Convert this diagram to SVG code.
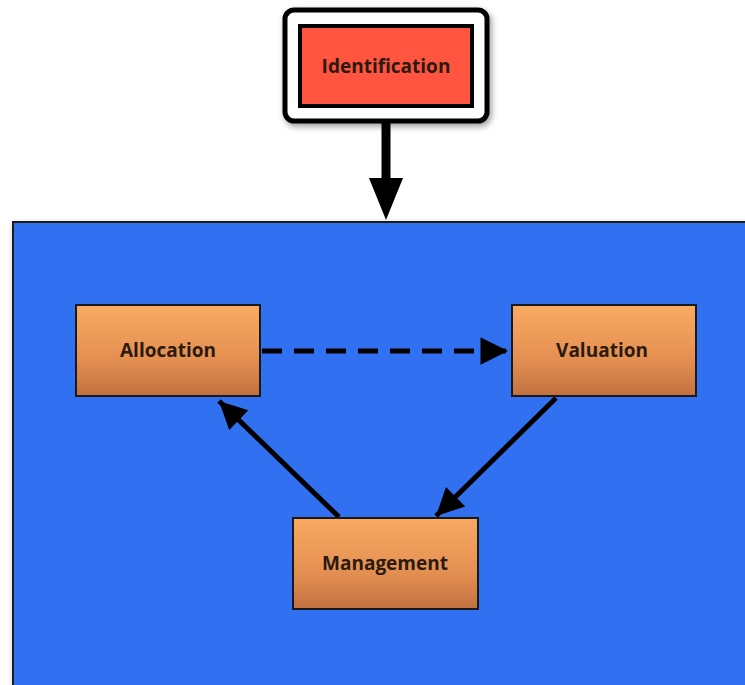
<svg xmlns="http://www.w3.org/2000/svg" width="745" height="685" viewBox="0 0 745 685">
<style>
.box{stroke:#1a1a1a;stroke-width:2;fill:url(#og)}
.lbl{font-family:"Open Sans","Liberation Sans",sans-serif;font-weight:bold;font-size:19px;fill:#2a1a10;text-anchor:middle}
.con{stroke:#000;stroke-width:5;fill:none}
</style>
<defs>
<linearGradient id="og" x1="0" y1="0" x2="0" y2="1">
<stop offset="0" stop-color="#F9AA62"/>
<stop offset="0.6" stop-color="#E48F52"/>
<stop offset="1" stop-color="#C27040"/>
</linearGradient>
<marker id="ah" viewBox="0 0 10 10" refX="10" refY="5" markerWidth="6.5" markerHeight="5.5" markerUnits="strokeWidth" orient="auto">
<path d="M0,0 L10,5 L0,10 z" fill="#000"/>
</marker>
<filter id="sh" x="-10%" y="-10%" width="130%" height="130%">
<feGaussianBlur in="SourceAlpha" stdDeviation="3"/>
<feOffset dx="2" dy="3"/>
<feComponentTransfer><feFuncA type="linear" slope="0.4"/></feComponentTransfer>
<feMerge><feMergeNode/><feMergeNode in="SourceGraphic"/></feMerge>
</filter>
</defs>
<rect width="745" height="685" fill="#fff"/>
<g id="container">
<rect x="13" y="222" width="740" height="480" fill="#3070F2" stroke="#1a1a1a" stroke-width="2" filter="url(#sh)"/>
</g>
<g id="identification">
<rect x="285" y="10" width="202" height="111" rx="9" fill="#fff" stroke="#000" stroke-width="5" filter="url(#sh)"/>
<rect x="300" y="26" width="172" height="80" fill="#FF5540" stroke="#000" stroke-width="4"/>
<text class="lbl" x="386" y="73">Identification</text>
</g>
<g id="connectors">
<line x1="386" y1="122" x2="386" y2="180" stroke="#000" stroke-width="9"/>
<path d="M369,178 L403,178 L386,220 z" fill="#000"/>
<line class="con" x1="262" y1="351" x2="508" y2="351" stroke-dasharray="20,12" marker-end="url(#ah)"/>
<line class="con" x1="556" y1="398" x2="436" y2="516" marker-end="url(#ah)"/>
<line class="con" x1="339" y1="517" x2="219" y2="401" marker-end="url(#ah)"/>
</g>
<g id="allocation">
<rect class="box" x="76" y="305" width="184" height="91"/>
<text class="lbl" x="168" y="357">Allocation</text>
</g>
<g id="valuation">
<rect class="box" x="512" y="305" width="184" height="91"/>
<text class="lbl" x="602" y="357">Valuation</text>
</g>
<g id="management">
<rect class="box" x="293" y="518" width="185" height="91"/>
<text class="lbl" x="385" y="570">Management</text>
</g>
</svg>
